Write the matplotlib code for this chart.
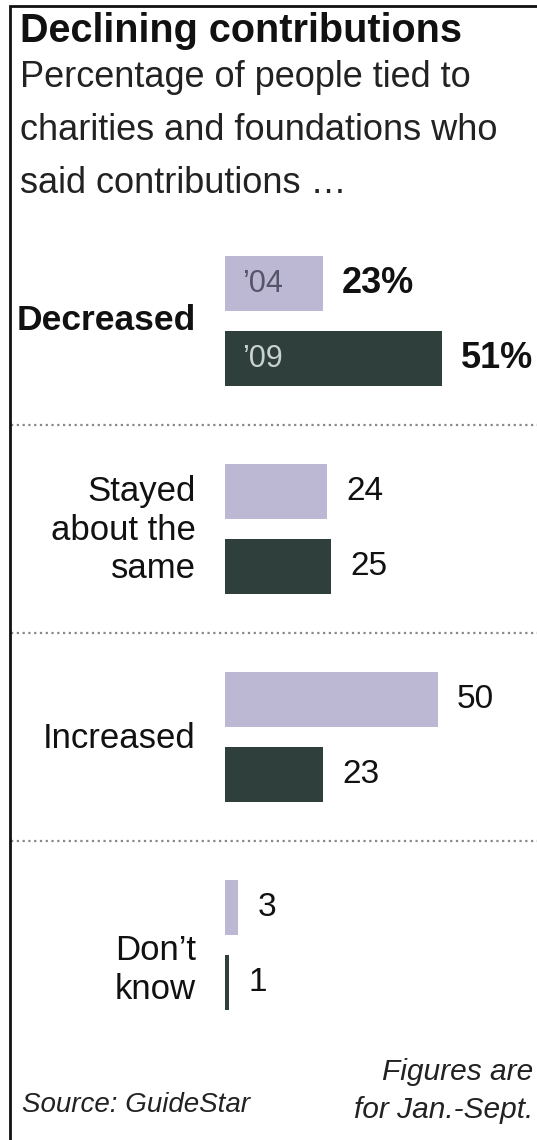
import matplotlib
matplotlib.use('Agg')
import matplotlib.pyplot as plt

plt.rcParams['font.family'] = ['Liberation Sans', 'DejaVu Sans']

# data
categories = ['Decreased', 'Stayed\nabout the\nsame', 'Increased', 'Don\u2019t\nknow']
years = ['\u201904', '\u201909']
values_04 = [23, 24, 50, 3]
values_09 = [51, 25, 23, 1]
colors = ['#bcb7d2', '#2f3f3b']

W, H = 537, 1140
fig = plt.figure(figsize=(W / 100, H / 100), dpi=100)
fig.patch.set_facecolor('white')

# background axes in pixel units (for text, rules, border)
bg = fig.add_axes([0, 0, 1, 1])
bg.set_xlim(0, W)
bg.set_ylim(H, 0)
bg.axis('off')

# layout: group centres in pixels
g0, gstep = 321, 208
x0, pxper = 225, 4.25


def gy(g):
    return g0 + gstep * g


# bar axes: x in percent, y in group units
bx = fig.add_axes([x0 / W, 0, (W - x0) / W, 1])
bx.set_xlim(0, (W - x0) / pxper)
bx.set_ylim((H - g0) / gstep, -g0 / gstep)
bx.axis('off')
bx.patch.set_alpha(0)

off = 37.5 / gstep
bh = 55 / gstep
idx = list(range(len(categories)))
bx.barh([i - off for i in idx], values_04, height=bh, color=colors[0])
bx.barh([i + off for i in idx], values_09, height=bh, color=colors[1])

# value labels
for i, (v1, v2) in enumerate(zip(values_04, values_09)):
    first = i == 0
    for v, y in ((v1, i - off), (v2, i + off)):
        bx.annotate(f'{v}%' if first else f'{v}', (v, y), xytext=(14, 0),
                    textcoords='offset points', ha='left', va='center',
                    fontsize=26 if first else 24,
                    fontweight='bold' if first else 'normal',
                    color='#111', annotation_clip=False)

# year tags inside first pair of bars
bx.annotate(years[0], (0, -off), xytext=(12, 0), textcoords='offset points',
            ha='left', va='center', fontsize=22, color='#55556a')
bx.annotate(years[1], (0, off), xytext=(12, 0), textcoords='offset points',
            ha='left', va='center', fontsize=22, color='#c9d2ce')

# category labels
label_y = [320, 530, 738, 970]
for i, (lab, y) in enumerate(zip(categories, label_y)):
    bg.text(196, y, lab, ha='right', va='center', fontsize=25.5 if i == 0 else 25,
            fontweight='bold' if i == 0 else 'normal', color='#111',
            linespacing=1.22)

# dotted separators
for g in (0.5, 1.5, 2.5):
    y = gy(g)
    bg.plot([11, W], [y, y], color='#888', lw=1.6, linestyle=(0, (1, 1.6)))

# border
bg.plot([10, 10, W], [H, 6, 6], color='#111', lw=2, clip_on=False,
        solid_joinstyle='miter')

# titles
bg.text(20, 42, 'Declining contributions', ha='left', va='baseline',
        fontsize=28.5, fontweight='bold', color='#111')
sub = ['Percentage of people tied to', 'charities and foundations who',
       'said contributions \u2026']
for k, line in enumerate(sub):
    bg.text(20, 87 + 53 * k, line, ha='left', va='baseline', fontsize=26,
            color='#222')

# footer
bg.text(22, 1105, 'Source: GuideStar', ha='left', va='center', fontsize=20,
        style='italic', color='#222')
bg.text(533, 1072, 'Figures are', ha='right', va='center', fontsize=21.5,
        style='italic', color='#222')
bg.text(533, 1110, 'for Jan.-Sept.', ha='right', va='center', fontsize=21.5,
        style='italic', color='#222')

fig.savefig('out.png', dpi=100, facecolor='white')
